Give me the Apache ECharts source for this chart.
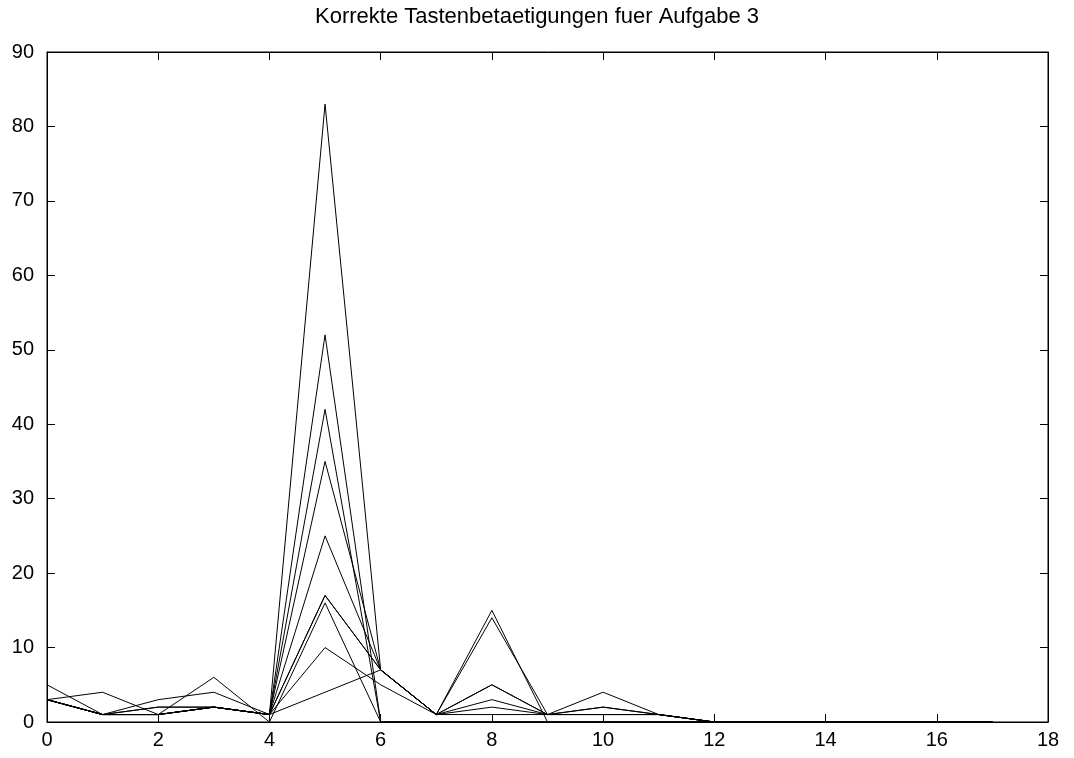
<!DOCTYPE html>
<html>
<head>
<meta charset="utf-8">
<script src="https://cdn.jsdelivr.net/npm/echarts@6/dist/echarts.min.js"></script>
<style>
html,body{margin:0;padding:0;background:#fff;}
#chart{width:1074px;height:758px;}
</style>
</head>
<body>
<div id="chart"></div>
<script>
// x positions 0..17
var xValues = [0,1,2,3,4,5,6,7,8,9,10,11,12,13,14,15,16,17];
var s1  = [3,1,2,2,1,83,7,1,5,1,2,1,0,0,0,0,0,0];
var s2  = [5,1,3,4,1,52,0,0,0,0,0,0,0,0,0,0,0,0];
var s3  = [3,4,1,2,1,42,0,0,0,0,0,0,0,0,0,0,0,0];
var s4  = [3,1,1,2,1,35,7,1,15,0,0,0,0,0,0,0,0,0];
var s5  = [3,1,2,2,1,25,7,1,14,1,1,1,0,0,0,0,0,0];
var s6  = [3,1,1,2,1,17,7,1,5,1,4,1,0,0,0,0,0,0];
var s7  = [3,1,1,2,1,17,7,1,3,1,2,1,0,0,0,0,0,0];
var s8  = [3,1,1,6,0,16,0,0,0,0,0,0,0,0,0,0,0,0];
var s9  = [3,1,1,2,1,10,5,1,2,1,1,1,0,0,0,0,0,0];
var s10 = [3,1,1,2,1,4,7,1,1,1,1,1,0,0,0,0,0,0];
var allSeries = [s1,s2,s3,s4,s5,s6,s7,s8,s9,s10];
var title = 'Korrekte Tastenbetaetigungen fuer Aufgabe 3';

var chart = echarts.init(document.getElementById('chart'), null, {renderer:'canvas'});
var font = 'Liberation Sans, Arial, Helvetica, sans-serif';
function pairs(arr){ return arr.map(function(v,i){ return [xValues[i], v]; }); }
var series = allSeries.map(function(arr){
  return {type:'line', data:pairs(arr), symbol:'none', showSymbol:false,
    lineStyle:{color:'#000', width:1}, itemStyle:{color:'#000'}, animation:false, silent:true};
});
var tickStyle = {show:true, inside:true, length:8, lineStyle:{color:'#000', width:1}};
chart.setOption({
  animation:false,
  backgroundColor:'#fff',
  title:{text:title, left:'center', top:1, textStyle:{fontFamily:font, fontSize:22, fontWeight:'normal', color:'#000'}},
  grid:{left:47, right:26, top:52, bottom:36, show:true, borderColor:'#000', borderWidth:1},
  xAxis:[
    {type:'value', min:0, max:18, interval:2, position:'bottom',
     axisLine:{show:true, onZero:false, lineStyle:{color:'#000', width:1}},
     axisTick:tickStyle, splitLine:{show:false},
     axisLabel:{color:'#000', fontFamily:font, fontSize:20, margin:8}},
    {type:'value', min:0, max:18, interval:2, position:'top',
     axisLine:{show:true, onZero:false, lineStyle:{color:'#000', width:1}},
     axisTick:tickStyle, splitLine:{show:false}, axisLabel:{show:false}}
  ],
  yAxis:[
    {type:'value', min:0, max:90, interval:10, position:'left',
     axisLine:{show:true, onZero:false, lineStyle:{color:'#000', width:1}},
     axisTick:tickStyle, splitLine:{show:false},
     axisLabel:{color:'#000', fontFamily:font, fontSize:20, margin:13}},
    {type:'value', min:0, max:90, interval:10, position:'right',
     axisLine:{show:true, onZero:false, lineStyle:{color:'#000', width:1}},
     axisTick:tickStyle, splitLine:{show:false}, axisLabel:{show:false}}
  ],
  series:series
});
</script>
</body>
</html>
